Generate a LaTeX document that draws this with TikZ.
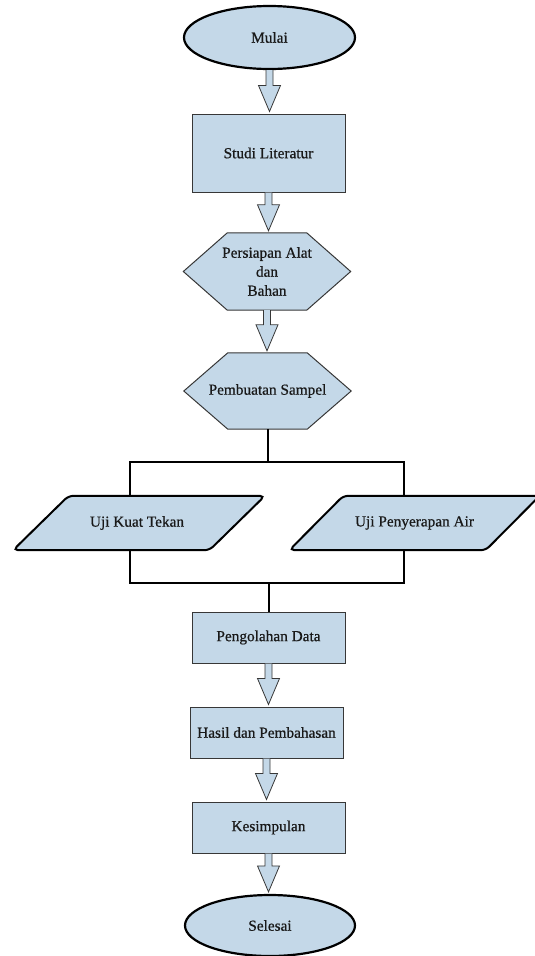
\documentclass[tikz,border=0pt]{standalone}
\usepackage{fontspec}
\setmainfont{Liberation Serif}[FakeBold=0.7]
\usetikzlibrary{shapes.geometric,calc,backgrounds}
\definecolor{fillb}{RGB}{196,216,232}
\definecolor{edgec}{RGB}{55,55,55}
\newcommand{\blockarr}[2]{%
  \filldraw[barrow] let \p1=(#1.south), \p2=(#2.north) in
    (\x1-3.5pt,\y1) -- (\x1-3.5pt,\y2+28pt) -- (\x1-11pt,\y2+28pt) -- (\x1,\y2+2pt)
    -- (\x1+11pt,\y2+28pt) -- (\x1+3.5pt,\y2+28pt) -- (\x1+3.5pt,\y1);}
\begin{document}
\begin{tikzpicture}[x=1pt,y=-1pt,
  every node/.style={font=\fontsize{15.3}{19}\selectfont, align=center, inner sep=0pt, text=black!90},
  term/.style={ellipse, draw=black, line width=2.2pt, fill=fillb, minimum width=171pt, minimum height=63pt},
  proc/.style={rectangle, draw=edgec, line width=1pt, fill=fillb, minimum width=153pt, minimum height=51pt},
  hexbox/.style={rectangle, minimum width=167pt, minimum height=77pt},
  hexline/.style={draw=edgec, line width=1pt, fill=fillb},
  parabox/.style={rectangle, minimum width=196pt, minimum height=54pt},
  paraline/.style={draw=black, line width=2pt, fill=fillb, rounded corners=5pt},
  link/.style={draw=black, line width=2pt},
  barrow/.style={draw=edgec, line width=0.8pt, fill=fillb}]
\useasboundingbox (0,0) rectangle (535,956);

\node[term] (mulai) at (269.5,37.5) {Mulai};
\node[proc, minimum height=78pt] (studi) at (268.5,153) {Studi Literatur};
\node[hexbox] (persiapan) at (267,271.5) {Persiapan Alat\\dan\\Bahan};
\node[hexbox, minimum height=76pt] (pembuatan) at (267.5,391) {Pembuatan Sampel};
\node[parabox] (kuat) at (139,523) {\hspace*{-4pt}Uji Kuat Tekan};
\node[parabox] (air) at (414.5,523) {Uji Penyerapan Air};
\node[proc] (olah) at (268.5,637.5) {Pengolahan Data};
\node[proc] (hasil) at (266.5,732.5) {Hasil dan Pembahasan};
\node[proc] (simpul) at (268.5,827.5) {Kesimpulan};
\node[term, minimum width=170pt, minimum height=61pt] (selesai) at (270,925.5) {Selesai};

\begin{scope}[on background layer]
  \foreach \h in {persiapan,pembuatan}{
    \draw[hexline] (\h.west) -- ([xshift=44pt]\h.north west) -- ([xshift=-44pt]\h.north east)
      -- (\h.east) -- ([xshift=-44pt]\h.south east) -- ([xshift=44pt]\h.south west) -- cycle;}
  \foreach \p/\s in {kuat/27.75,air/27}{
    \draw[paraline] ([xshift=\s pt]\p.north west) -- ([xshift=\s pt]\p.north east)
      -- ([xshift=-\s pt]\p.south east) -- ([xshift=-\s pt]\p.south west) -- cycle;}
\end{scope}

\coordinate (splitL) at (130,462);
\coordinate (splitR) at (404,462);
\coordinate (mergeL) at (130,583);
\coordinate (mergeR) at (404,583);

\blockarr{mulai}{studi}
\blockarr{studi}{persiapan}
\blockarr{persiapan}{pembuatan}
\blockarr{olah}{hasil}
\blockarr{hasil}{simpul}
\blockarr{simpul}{selesai}

\draw[link] (pembuatan.south) -- (pembuatan.south |- splitL);
\draw[link] (kuat.north -| splitL) -- (splitL) -- (splitR) -- (air.north -| splitR);
\draw[link] (kuat.south -| mergeL) -- (mergeL) -- (mergeR) -- (air.south -| mergeR);
\draw[link] (olah.north |- mergeL) -- (olah.north);
\end{tikzpicture}
\end{document}
